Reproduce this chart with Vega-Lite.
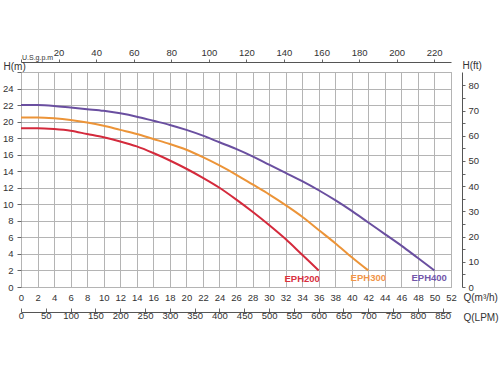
{
  "$schema": "https://vega.github.io/schema/vega-lite/v6.json",
  "autosize": "none",
  "width": 430,
  "height": 215,
  "padding": {"left": 21, "top": 72, "right": 49, "bottom": 88},
  "background": "white",
  "config": {
    "view": {"stroke": "#aaaaaa"},
    "axis": {
      "labelFont": "Liberation Sans", "labelFontSize": 9.5, "labelColor": "#333333",
      "titleFont": "Liberation Sans", "titleFontWeight": "normal", "titleColor": "#333333", "titleFontSize": 10,
      "gridColor": "#b4b4b4", "gridOpacity": 1, "tickColor": "#666666", "domainColor": "#555555"
    }
  },
  "datasets": {
    "curves": [
      {"series": "EPH200", "Q": 0, "H": 19.2}, {"series": "EPH200", "Q": 2, "H": 19.2}, {"series": "EPH200", "Q": 4, "H": 19.1},
      {"series": "EPH200", "Q": 6, "H": 18.9}, {"series": "EPH200", "Q": 8, "H": 18.5}, {"series": "EPH200", "Q": 10, "H": 18.1},
      {"series": "EPH200", "Q": 12, "H": 17.6}, {"series": "EPH200", "Q": 14, "H": 17.0}, {"series": "EPH200", "Q": 16, "H": 16.2},
      {"series": "EPH200", "Q": 18, "H": 15.3}, {"series": "EPH200", "Q": 20, "H": 14.3}, {"series": "EPH200", "Q": 22, "H": 13.2},
      {"series": "EPH200", "Q": 24, "H": 12.0}, {"series": "EPH200", "Q": 26, "H": 10.6}, {"series": "EPH200", "Q": 28, "H": 9.1},
      {"series": "EPH200", "Q": 30, "H": 7.5}, {"series": "EPH200", "Q": 32, "H": 5.8}, {"series": "EPH200", "Q": 34, "H": 3.9},
      {"series": "EPH200", "Q": 36, "H": 2.0},
      {"series": "EPH300", "Q": 0, "H": 20.5}, {"series": "EPH300", "Q": 2, "H": 20.5}, {"series": "EPH300", "Q": 4, "H": 20.4},
      {"series": "EPH300", "Q": 6, "H": 20.2}, {"series": "EPH300", "Q": 8, "H": 19.9}, {"series": "EPH300", "Q": 10, "H": 19.5},
      {"series": "EPH300", "Q": 12, "H": 19.0}, {"series": "EPH300", "Q": 14, "H": 18.5}, {"series": "EPH300", "Q": 16, "H": 17.9},
      {"series": "EPH300", "Q": 18, "H": 17.3}, {"series": "EPH300", "Q": 20, "H": 16.6}, {"series": "EPH300", "Q": 22, "H": 15.7},
      {"series": "EPH300", "Q": 24, "H": 14.7}, {"series": "EPH300", "Q": 26, "H": 13.6}, {"series": "EPH300", "Q": 28, "H": 12.4},
      {"series": "EPH300", "Q": 30, "H": 11.2}, {"series": "EPH300", "Q": 32, "H": 9.9}, {"series": "EPH300", "Q": 34, "H": 8.5},
      {"series": "EPH300", "Q": 36, "H": 6.9}, {"series": "EPH300", "Q": 38, "H": 5.3}, {"series": "EPH300", "Q": 40, "H": 3.6},
      {"series": "EPH300", "Q": 42, "H": 2.0},
      {"series": "EPH400", "Q": 0, "H": 22.0}, {"series": "EPH400", "Q": 2, "H": 22.0}, {"series": "EPH400", "Q": 4, "H": 21.9},
      {"series": "EPH400", "Q": 6, "H": 21.7}, {"series": "EPH400", "Q": 8, "H": 21.5}, {"series": "EPH400", "Q": 10, "H": 21.3},
      {"series": "EPH400", "Q": 12, "H": 21.0}, {"series": "EPH400", "Q": 14, "H": 20.6}, {"series": "EPH400", "Q": 16, "H": 20.1},
      {"series": "EPH400", "Q": 18, "H": 19.6}, {"series": "EPH400", "Q": 20, "H": 19.0}, {"series": "EPH400", "Q": 22, "H": 18.3},
      {"series": "EPH400", "Q": 24, "H": 17.5}, {"series": "EPH400", "Q": 26, "H": 16.7}, {"series": "EPH400", "Q": 28, "H": 15.8},
      {"series": "EPH400", "Q": 30, "H": 14.8}, {"series": "EPH400", "Q": 32, "H": 13.8}, {"series": "EPH400", "Q": 34, "H": 12.8},
      {"series": "EPH400", "Q": 36, "H": 11.7}, {"series": "EPH400", "Q": 38, "H": 10.5}, {"series": "EPH400", "Q": 40, "H": 9.2},
      {"series": "EPH400", "Q": 42, "H": 7.8}, {"series": "EPH400", "Q": 44, "H": 6.4}, {"series": "EPH400", "Q": 46, "H": 5.0},
      {"series": "EPH400", "Q": 48, "H": 3.5}, {"series": "EPH400", "Q": 50, "H": 2.0}
    ],
    "labels": [
      {"series": "EPH200", "Q": 34.0, "H": 0.93},
      {"series": "EPH300", "Q": 42.0, "H": 1.13},
      {"series": "EPH400", "Q": 49.36, "H": 1.13}
    ],
    "gpm": [{"gpm": 0}, {"gpm": 228.95}],
    "lpm": [{"lpm": 0}, {"lpm": 866.67}],
    "ft": [{"ft": 0}, {"ft": 85.3}]
  },
  "layer": [
    {
      "data": {"name": "curves"},
      "mark": {"type": "line", "interpolate": "monotone", "strokeWidth": 2},
      "encoding": {
        "x": {
          "field": "Q", "type": "quantitative",
          "scale": {"domain": [0, 52], "nice": false},
          "axis": {
            "orient": "bottom",
            "values": [0,2,4,6,8,10,12,14,16,18,20,22,24,26,28,30,32,34,36,38,40,42,44,46,48,50,52],
            "domain": false, "ticks": false, "grid": true, "labelPadding": 5, "labelFlush": false, "labelOverlap": false,
            "title": "Q(m³/h)", "titleX": 442, "titleY": 10, "titleAlign": "left", "titleBaseline": "middle", "titleAngle": 0
          }
        },
        "y": {
          "field": "H", "type": "quantitative",
          "scale": {"domain": [0, 26], "nice": false},
          "axis": {
            "orient": "left",
            "values": [0,2,4,6,8,10,12,14,16,18,20,22,24,26],
            "labelExpr": "datum.value > 25 ? '' : datum.label",
            "domain": false, "tickSize": 4, "labelPadding": 4, "grid": true, "labelFlush": false, "labelOverlap": false,
            "title": "H(m)", "titleX": -18, "titleY": -6, "titleAlign": "left", "titleBaseline": "middle", "titleAngle": 0
          }
        },
        "color": {
          "field": "series", "type": "nominal",
          "scale": {"domain": ["EPH200", "EPH300", "EPH400"], "range": ["#d42a3c", "#ec9438", "#6a4fa0"]},
          "legend": null
        }
      }
    },
    {
      "data": {"name": "labels"},
      "mark": {"type": "text", "font": "Liberation Sans", "fontWeight": "bold", "fontSize": 9.5, "baseline": "middle", "align": "center"},
      "encoding": {
        "x": {"field": "Q", "type": "quantitative", "scale": {"domain": [0, 52], "nice": false}, "axis": null},
        "y": {"field": "H", "type": "quantitative", "scale": {"domain": [0, 26], "nice": false}, "axis": null},
        "text": {"field": "series"},
        "color": {
          "field": "series", "type": "nominal",
          "scale": {"domain": ["EPH200", "EPH300", "EPH400"], "range": ["#d8303f", "#f0954a", "#7457aa"]},
          "legend": null
        }
      }
    },
    {
      "data": {"name": "gpm"},
      "mark": {"type": "point", "opacity": 0},
      "encoding": {
        "x": {
          "field": "gpm", "type": "quantitative",
          "scale": {"domain": [0, 228.95], "nice": false},
          "axis": {
            "orient": "top", "offset": 10,
            "values": [0,20,40,60,80,100,120,140,160,180,200,220],
            "labelExpr": "datum.value == 0 ? '' : datum.label",
            "grid": false, "tickSize": 3, "labelPadding": 2, "labelFlush": false, "labelOverlap": false,
            "title": "U.S.g.p.m", "titleFontSize": 7, "titleX": 0.5, "titleY": -2, "titleAlign": "left", "titleBaseline": "bottom", "titleAngle": 0
          }
        }
      }
    },
    {
      "data": {"name": "lpm"},
      "mark": {"type": "point", "opacity": 0},
      "encoding": {
        "x": {
          "field": "lpm", "type": "quantitative",
          "scale": {"domain": [0, 866.67], "nice": false},
          "axis": {
            "orient": "bottom", "offset": 25,
            "values": [0,50,100,150,200,250,300,350,400,450,500,550,600,650,700,750,800,850],
            "grid": false, "tickSize": -4, "labelPadding": 2, "labelFlush": false, "labelOverlap": false,
            "title": "Q(LPM)", "titleX": 442, "titleY": 5, "titleAlign": "left", "titleBaseline": "middle", "titleAngle": 0
          }
        }
      }
    },
    {
      "data": {"name": "ft"},
      "mark": {"type": "point", "opacity": 0},
      "encoding": {
        "y": {
          "field": "ft", "type": "quantitative",
          "scale": {"domain": [0, 85.3], "nice": false},
          "axis": {
            "orient": "right", "offset": 11,
            "values": [0,5,10,15,20,25,30,35,40,45,50,55,60,65,70,75,80],
            "labelExpr": "datum.value % 10 == 0 ? datum.label : ''",
            "grid": false, "tickSize": 3, "labelPadding": 3, "labelFlush": false, "labelOverlap": false,
            "title": "H(ft)", "titleX": 0, "titleY": -7, "titleAlign": "left", "titleBaseline": "middle", "titleAngle": 0
          }
        }
      }
    }
  ],
  "resolve": {
    "scale": {"x": "independent", "y": "independent", "color": "independent"},
    "axis": {"x": "independent", "y": "independent"}
  }
}
